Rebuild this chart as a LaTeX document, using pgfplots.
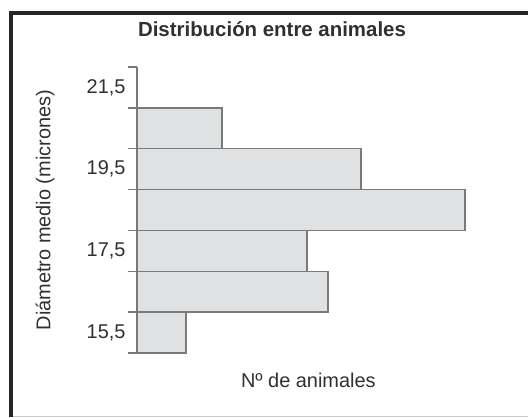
\documentclass[border=0pt]{standalone}
\usepackage{pgfplots}
\pgfplotsset{compat=1.18}
\usepackage{fontspec}
\setmainfont{Liberation Sans}
\definecolor{barfill}{HTML}{E0E1E3}
\definecolor{baredge}{HTML}{7A7A7A}
\definecolor{txt}{HTML}{303030}
\begin{document}
\begin{tikzpicture}[x=1bp,y=1bp]
\path[use as bounding box] (0,0) rectangle (528,417);
% frame
\draw[line width=4bp,color=black!85] (11,0) -- (11,404) -- (528,404);
\draw[line width=1bp,color=black!20] (13,0.5) -- (528,0.5);
\begin{axis}[
  at={(137bp,64bp)}, anchor=south west,
  scale only axis, width=340bp, height=286bp,
  xmin=0, xmax=340, ymin=15, ymax=22,
  xbar, bar width=1,
  axis y line*=left, axis x line*=bottom,
  x axis line style={draw=none},
  y axis line style={color=baredge, line width=1.5bp},
  xtick=\empty,
  ytick={15.5,17.5,19.5,21.5},
  yticklabels={{\mbox{15,5}},{\mbox{17,5}},{\mbox{19,5}},{\mbox{21,5}}},
  minor ytick={15,16,17,18,19,20,21,22},
  tick align=outside,
  major tick length=0pt,
  minor tick length=9bp,
  every tick/.style={color=baredge, line width=1.5bp},
  yticklabel style={font=\fontsize{20}{24}\selectfont, color=txt, xshift=-8bp},
  ylabel={Diámetro medio (micrones)},
  ylabel style={at={(rel axis cs:0,0.5)}, anchor=center, yshift=92bp, font=\fontsize{20}{24}\selectfont, color=txt},
  xlabel={Nº de animales},
  xlabel style={at={(rel axis cs:0.504,0)}, anchor=center, yshift=-27bp, font=\fontsize{20}{24}\selectfont, color=txt},
  title={Distribución entre animales},
  title style={at={(rel axis cs:0.397,1)}, anchor=center, yshift=32bp, font=\bfseries\fontsize{20.5}{25}\selectfont, color=txt},
  clip=false,
]
\addplot[fill=barfill, draw=baredge, line width=1.5bp] coordinates {
  (49,15.5) (191,16.5) (170,17.5) (328,18.5) (224,19.5) (85,20.5)
};
\end{axis}
\end{tikzpicture}
\end{document}
